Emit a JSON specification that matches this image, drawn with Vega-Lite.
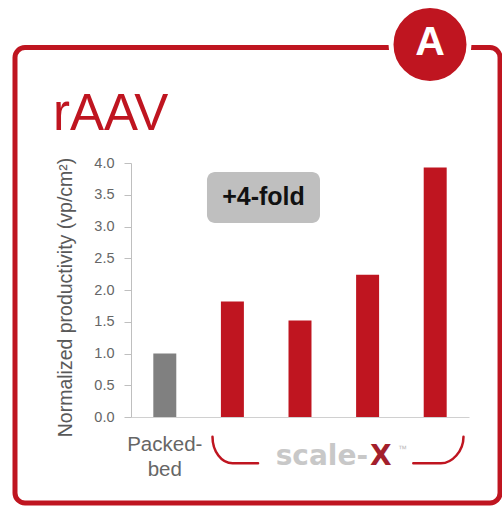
{
  "$schema": "https://vega.github.io/schema/vega-lite/v6.json",
  "width": 338,
  "height": 254,
  "autosize": {"type": "none"},
  "padding": {"left": 131, "top": 163, "right": 33, "bottom": 91},
  "background": "white",
  "config": {"view": {"stroke": null}},
  "data": {"values": [
    {"system": "Packed-bed", "type": "Packed-bed", "productivity": 1.0},
    {"system": "scale-X 1", "type": "scale-X", "productivity": 1.82},
    {"system": "scale-X 2", "type": "scale-X", "productivity": 1.52},
    {"system": "scale-X 3", "type": "scale-X", "productivity": 2.24},
    {"system": "scale-X 4", "type": "scale-X", "productivity": 3.93}
  ]},
  "resolve": {"scale": {"x": "independent", "y": "independent"}},
  "layer": [
    {
      "data": {"values": [{}]},
      "mark": {"type": "rect", "fillOpacity": 0, "stroke": "#bf1520", "strokeWidth": 5, "cornerRadius": 10},
      "encoding": {
        "x": {"datum": -1.216, "type": "quantitative", "scale": {"domain": [0.5, 5.5], "nice": false, "zero": false}, "axis": null},
        "x2": {"datum": 5.959},
        "y": {"datum": 5.819, "type": "quantitative", "scale": {"domain": [0, 4], "nice": false, "zero": false}, "axis": null},
        "y2": {"datum": -1.354}
      }
    },
    {
      "mark": {"type": "bar"},
      "encoding": {
        "x": {"field": "system", "type": "nominal", "sort": null,
              "scale": {"paddingInner": 0.66, "paddingOuter": 0.33},
              "axis": {"title": null, "ticks": false, "tickSize": 0, "domainColor": "#d0d0d0",
                       "labelExpr": "datum.value == 'Packed-bed' ? ['Packed-', 'bed'] : ''",
                       "labelFont": "Liberation Sans", "labelFontSize": 20.5, "labelColor": "#666666",
                       "labelPadding": 17, "labelLineHeight": 25, "labelAngle": 0}},
        "y": {"field": "productivity", "type": "quantitative",
              "scale": {"domain": [0, 4], "nice": false, "zero": true},
              "axis": {"values": [0, 0.5, 1, 1.5, 2, 2.5, 3, 3.5, 4], "format": ".1f", "grid": false,
                       "domainColor": "#bfbfbf", "tickColor": "#bfbfbf", "tickSize": 7, "labelPadding": 10,
                       "labelFont": "Liberation Sans", "labelFontSize": 14.5, "labelColor": "#666666",
                       "title": "Normalized productivity (vp/cm²)", "titleFont": "Liberation Sans",
                       "titleFontSize": 19.5, "titleFontWeight": "normal", "titleColor": "#595959",
                       "titleX": -66, "titleY": 134, "titleBaseline": "middle", "titleAngle": -90, "titleAlign": "center"}},
        "color": {"field": "type", "type": "nominal",
                  "scale": {"domain": ["Packed-bed", "scale-X"], "range": ["#808080", "#bf1520"]},
                  "legend": null}
      }
    },
    {
      "data": {"values": [{}]},
      "mark": {"type": "rect", "fill": "#bfbfbf", "cornerRadius": 8},
      "encoding": {
        "x": {"datum": 1.624, "type": "quantitative", "scale": {"domain": [0.5, 5.5], "nice": false, "zero": false}, "axis": null},
        "x2": {"datum": 3.296},
        "y": {"datum": 3.858, "type": "quantitative", "scale": {"domain": [0, 4], "nice": false, "zero": false}, "axis": null},
        "y2": {"datum": 3.055}
      }
    },
    {
      "data": {"values": [{}]},
      "mark": {"type": "text", "text": "+4-fold", "font": "Liberation Sans", "fontWeight": "bold", "fontSize": 25, "color": "#111111", "align": "center", "baseline": "middle"},
      "encoding": {
        "x": {"datum": 2.46, "type": "quantitative", "scale": {"domain": [0.5, 5.5], "nice": false, "zero": false}, "axis": null},
        "y": {"datum": 3.457, "type": "quantitative", "scale": {"domain": [0, 4], "nice": false, "zero": false}, "axis": null}
      }
    },
    {
      "data": {"values": [{}]},
      "mark": {"type": "point", "shape": "M-1,-0.106 C-1,0.011 -0.928,0.106 -0.84,0.106 L-0.637,0.106 M0.6,0.106 L0.82,0.106 C0.908,0.106 1,0.011 1,-0.106",
               "filled": false, "stroke": "#bf1520", "strokeWidth": 2.5, "size": 63001, "opacity": 1, "strokeCap": "round"},
      "encoding": {
        "x": {"datum": 3.562, "type": "quantitative", "scale": {"domain": [0.5, 5.5], "nice": false, "zero": false}, "axis": null},
        "y": {"datum": -0.52, "type": "quantitative", "scale": {"domain": [0, 4], "nice": false, "zero": false}, "axis": null}
      }
    },
    {
      "data": {"values": [{}]},
      "mark": {"type": "text", "text": "scale-", "font": "DejaVu Sans", "fontWeight": "bold", "fontSize": 28, "color": "#c8c8c8", "align": "right", "baseline": "alphabetic"},
      "encoding": {
        "x": {"datum": 4.006, "type": "quantitative", "scale": {"domain": [0.5, 5.5], "nice": false, "zero": false}, "axis": null},
        "y": {"datum": -0.756, "type": "quantitative", "scale": {"domain": [0, 4], "nice": false, "zero": false}, "axis": null}
      }
    },
    {
      "data": {"values": [{}]},
      "mark": {"type": "text", "text": "X", "font": "DejaVu Sans", "fontWeight": "bold", "fontSize": 28, "color": "#a31f2c", "align": "left", "baseline": "alphabetic"},
      "encoding": {
        "x": {"datum": 4.035, "type": "quantitative", "scale": {"domain": [0.5, 5.5], "nice": false, "zero": false}, "axis": null},
        "y": {"datum": -0.756, "type": "quantitative", "scale": {"domain": [0, 4], "nice": false, "zero": false}, "axis": null}
      }
    },
    {
      "data": {"values": [{}]},
      "mark": {"type": "text", "text": "™", "font": "Liberation Sans", "fontSize": 9, "color": "#bbbbbb", "align": "left", "baseline": "alphabetic"},
      "encoding": {
        "x": {"datum": 4.45, "type": "quantitative", "scale": {"domain": [0.5, 5.5], "nice": false, "zero": false}, "axis": null},
        "y": {"datum": -0.551, "type": "quantitative", "scale": {"domain": [0, 4], "nice": false, "zero": false}, "axis": null}
      }
    },
    {
      "data": {"values": [{}]},
      "mark": {"type": "point", "shape": "circle", "filled": true, "fill": "#bf1520", "stroke": "white", "strokeWidth": 5, "size": 6082, "opacity": 1},
      "encoding": {
        "x": {"datum": 4.923, "type": "quantitative", "scale": {"domain": [0.5, 5.5], "nice": false, "zero": false}, "axis": null},
        "y": {"datum": 5.866, "type": "quantitative", "scale": {"domain": [0, 4], "nice": false, "zero": false}, "axis": null}
      }
    },
    {
      "data": {"values": [{}]},
      "mark": {"type": "text", "text": "A", "font": "Liberation Sans", "fontWeight": "bold", "fontSize": 41, "color": "white", "align": "center", "baseline": "alphabetic"},
      "encoding": {
        "x": {"datum": 4.923, "type": "quantitative", "scale": {"domain": [0.5, 5.5], "nice": false, "zero": false}, "axis": null},
        "y": {"datum": 5.701, "type": "quantitative", "scale": {"domain": [0, 4], "nice": false, "zero": false}, "axis": null}
      }
    },
    {
      "data": {"values": [{}]},
      "mark": {"type": "text", "text": "rAAV", "font": "Liberation Sans", "fontSize": 51, "color": "#bf1520", "align": "left", "baseline": "alphabetic"},
      "encoding": {
        "x": {"datum": -0.654, "type": "quantitative", "scale": {"domain": [0.5, 5.5], "nice": false, "zero": false}, "axis": null},
        "y": {"datum": 4.52, "type": "quantitative", "scale": {"domain": [0, 4], "nice": false, "zero": false}, "axis": null}
      }
    }
  ]
}
